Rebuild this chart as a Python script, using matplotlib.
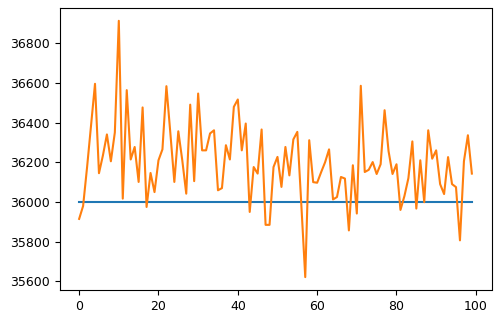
import numpy as np
import matplotlib
matplotlib.use('Agg')
import matplotlib.pyplot as plt

# x positions, flat reference level and the noisy series
x = np.arange(100)
baseline = 36000
values = [35915, 35980, 36175, 36385, 36595, 36145, 36235, 36340, 36205, 36350,
          36912, 36017, 36563, 36214, 36277, 36101, 36476, 35975, 36146, 36050,
          36210, 36265, 36583, 36345, 36101, 36356, 36210, 36042, 36490, 36105,
          36546, 36260, 36260, 36345, 36361, 36059, 36070, 36286, 36214, 36479,
          36516, 36260, 36395, 35950, 36176, 36143, 36365, 35885, 35885, 36176,
          36227, 36076, 36277, 36134, 36315, 36353, 35990, 35622, 36311, 36100,
          36097, 36150, 36200, 36265, 36013, 36025, 36126, 36118, 35857, 36185,
          35942, 36585, 36151, 36162, 36201, 36141, 36190, 36462, 36256, 36141,
          36190, 35960, 36030, 36120, 36305, 35967, 36210, 35999, 36361, 36218,
          36260, 36090, 36040, 36226, 36090, 36075, 35807, 36205, 36336, 36143]

fig = plt.figure(figsize=(5, 3.2), dpi=100)
ax = fig.add_subplot(111)
fig.subplots_adjust(left=0.119, right=0.983, top=0.975, bottom=0.094)

# Flat line and the series
ax.plot(x, [baseline] * len(x))
ax.plot(x, values)

ax.set_yticks([35600, 35800, 36000, 36200, 36400, 36600, 36800])
ax.tick_params(labelsize=9)

fig.savefig('out.png')
